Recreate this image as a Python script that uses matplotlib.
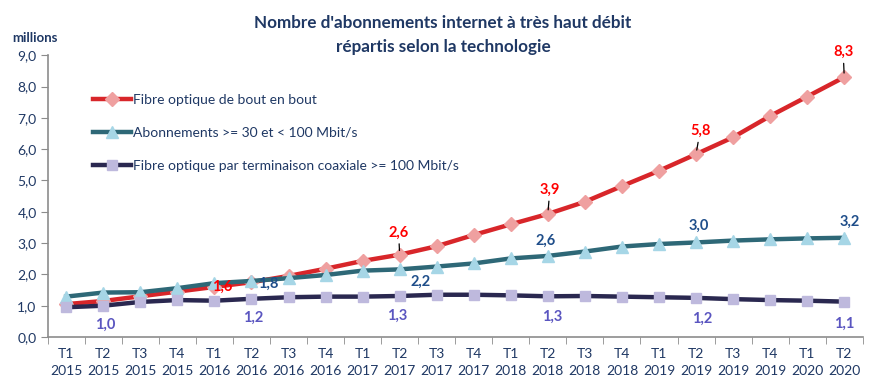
import numpy as np
import matplotlib.pyplot as plt
from matplotlib.ticker import FuncFormatter

plt.rcParams['font.family'] = ['Lato', 'DejaVu Sans']

# Trimestres
trimestres = ['T1', 'T2', 'T3', 'T4'] * 5 + ['T1', 'T2']
annees = ['2015'] * 4 + ['2016'] * 4 + ['2017'] * 4 + ['2018'] * 4 + ['2019'] * 4 + ['2020'] * 2
etiquettes_x = [f"{t}\n{a}" for t, a in zip(trimestres, annees)]

# Séries (millions)
fibre_ftth = [1.05, 1.15, 1.3, 1.45, 1.6, 1.75, 1.95, 2.18, 2.43, 2.63, 2.9, 3.26,
              3.6, 3.93, 4.32, 4.82, 5.31, 5.84, 6.38, 7.06, 7.68, 8.3]
abo_30_100 = [1.29, 1.42, 1.43, 1.56, 1.72, 1.79, 1.88, 1.98, 2.12, 2.16, 2.25, 2.35,
              2.51, 2.59, 2.73, 2.89, 2.97, 3.02, 3.08, 3.12, 3.15, 3.17]
fibre_coax = [0.95, 1.0, 1.12, 1.18, 1.16, 1.22, 1.27, 1.29, 1.29, 1.31, 1.35, 1.35,
              1.33, 1.3, 1.31, 1.29, 1.27, 1.25, 1.21, 1.18, 1.16, 1.13]

noms = ['Fibre optique de bout en bout',
        'Abonnements >= 30 et < 100 Mbit/s',
        'Fibre optique par terminaison coaxiale >= 100 Mbit/s']

# Etiquettes de valeurs affichées : (indice, texte, décalage en pixels)
labels_ftth = [(4, '1,6', (8, 0)), (9, '2,6', (-1, 22)), (13, '3,9', (2, 24)),
               (17, '5,8', (4, 23)), (21, '8,3', (-1, 25))]
labels_30 = [(5, '1,8', (17, -3)), (9, '2,2', (21, -12)), (13, '2,6', (-2, 15)),
             (17, '3,0', (3, 17)), (21, '3,2', (5, 16))]
labels_coax = [(1, '1,0', (2, -19)), (5, '1,2', (2, -19)), (9, '1,3', (-2, -20)),
               (13, '1,3', (4, -20)), (17, '1,2', (6, -21)), (21, '1,1', (0, -22))]

bleu_texte = '#1F3864'
x = np.arange(len(etiquettes_x))

fig = plt.figure(figsize=(8.75, 3.92), dpi=100)
ax = fig.add_axes([0.0545, 0.1403, 0.9315, 0.7187])

ax.plot(x, fibre_ftth, color='#D8262A', lw=3.2, marker='D', ms=7.5,
        mfc='#EFA0A0', mec='#EFA0A0', label=noms[0], zorder=3)
ax.plot(x, abo_30_100, color='#2E6877', lw=3.2, marker='^', ms=9,
        mfc='#A6D6E6', mec='#A6D6E6', label=noms[1], zorder=4)
ax.plot(x, fibre_coax, color='#2A2850', lw=3.2, marker='s', ms=7.5,
        mfc='#BEB9DD', mec='#BEB9DD', label=noms[2], zorder=5)

def etiqueter(serie, labels, couleur, trait=False):
    for i, txt, (dx, dy) in labels:
        kw = {}
        if trait:
            kw['arrowprops'] = dict(arrowstyle='-', color='black', lw=0.9,
                                    shrinkA=1, shrinkB=3)
        ax.annotate(txt, (x[i], serie[i]), xytext=(dx, dy), textcoords='offset pixels',
                    ha='center', va='center', color=couleur, fontsize=10.5,
                    fontweight='bold', zorder=6, **kw)

etiqueter(fibre_ftth, labels_ftth[:1], '#FF0000')
etiqueter(fibre_ftth, labels_ftth[1:], '#FF0000', trait=True)
etiqueter(abo_30_100, labels_30, '#1F4E8A')
etiqueter(fibre_coax, labels_coax, '#5A55C0')

ax.set_xlim(-0.5, len(x) - 0.5)
ax.set_ylim(0, 9)
ax.set_yticks(np.arange(0, 9.5, 1))
ax.yaxis.set_major_formatter(FuncFormatter(lambda v, p: f"{v:.1f}".replace('.', ',')))
ax.set_xticks(x)
ax.set_xticklabels(etiquettes_x, linespacing=1.5)
ax.set_xticks(np.arange(-0.5, len(x), 1), minor=True)
ax.tick_params(axis='x', which='major', length=0, pad=8, labelsize=10, labelcolor=bleu_texte)
ax.tick_params(axis='x', which='minor', length=5, color='#8C8C8C')
ax.tick_params(axis='y', length=5, color='#8C8C8C', labelsize=10, labelcolor=bleu_texte, pad=3)

for s in ['top', 'right']:
    ax.spines[s].set_visible(False)
for s in ['left', 'bottom']:
    ax.spines[s].set_color('#8C8C8C')
    ax.spines[s].set_linewidth(1.2)

leg = ax.legend(loc='upper left', bbox_to_anchor=(0.055, 0.862), frameon=False,
                fontsize=10, handlelength=2.8, handletextpad=0.15, labelspacing=1.5,
                borderpad=0, borderaxespad=0, numpoints=1)
for t in leg.get_texts():
    t.set_color(bleu_texte)

fig.text(443 / 875, 1 - 23 / 392, "Nombre d'abonnements internet à très haut débit",
         ha='center', va='center', fontsize=12.3, fontweight='bold', color=bleu_texte)
fig.text(443 / 875, 1 - 47 / 392, "répartis selon la technologie",
         ha='center', va='center', fontsize=12.3, fontweight='bold', color=bleu_texte)
fig.text(35 / 875, 1 - 38 / 392, 'millions', ha='center', va='center',
         fontsize=9.5, fontweight='bold', color=bleu_texte)

fig.savefig('out.png', dpi=100)
